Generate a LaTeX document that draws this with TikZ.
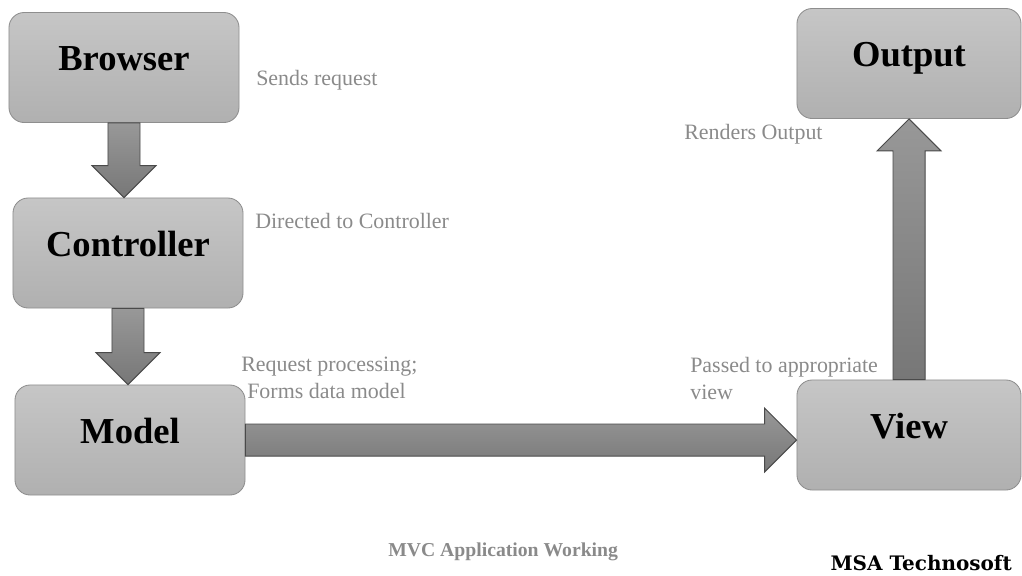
\documentclass[tikz,border=0pt]{standalone}
\usepackage{fontspec}
\setmainfont{Liberation Serif}
\newfontfamily\brandfont{DejaVu Serif}
\usepackage{tikz}
\usetikzlibrary{calc,positioning}

\definecolor{boxtop}{HTML}{C6C6C6}
\definecolor{boxbot}{HTML}{B0B0B0}
\definecolor{boxline}{HTML}{8E8E8E}
\definecolor{arrtop}{HTML}{989898}
\definecolor{arrbot}{HTML}{777777}
\definecolor{arrline}{HTML}{4A4A4A}
\definecolor{notegray}{HTML}{8A8A8A}

% big block arrow from #1 to #2
\newcommand\fatarrow[2]{%
\coordinate (headbase) at ($(#2)!0.8cm!(#1)$);
\draw[fatarrow] ($(#1)!0.4cm!90:(#2)$) -- ($(headbase)!0.4cm!90:(#2)$)
	-- ($(headbase)!0.8cm!90:(#2)$) -- (#2)
	-- ($(headbase)!0.8cm!-90:(#2)$) -- ($(headbase)!0.4cm!-90:(#2)$)
	-- ($(#1)!0.4cm!-90:(#2)$) -- cycle;
}

\begin{document}
\begin{tikzpicture}[x=0.025cm,y=-0.025cm]
	\begin{scope}

\tikzset{block/.style={draw=boxline,line width=0.6pt,rounded corners=0.38cm,
	top color=boxtop,bottom color=boxbot,inner sep=0pt,
	minimum width=5.75cm,minimum height=2.75cm,
	text height=0.62cm,text depth=0.47cm,
	font=\fontsize{26}{30}\selectfont\bfseries}}
\tikzset{fatarrow/.style={draw=arrline,line width=0.7pt,top color=arrtop,bottom color=arrbot}}
\tikzset{note/.style={anchor=base west,inner sep=0pt,text=notegray,align=left,
	font=\fontsize{15.6}{18.6}\selectfont}}

\useasboundingbox (0,0) rectangle (1022,575);

% the boxes
\node(browser)[block] at (124,67.5){Browser};
\node(controller)[block] at (128,253){Controller};
\node(model)[block] at (130,440){Model};
\node(output)[block,minimum width=5.6cm] at (909,63.5){Output};
\node(view)[block,minimum width=5.6cm] at (909,435){View};

% arrow ends
\coordinate (ctrltop) at (browser.south |- controller.north);
\coordinate (modeltop) at (controller.south |- model.north);
\coordinate (viewleft) at (model.east -| view.west);
\coordinate (outbottom) at (view.north |- output.south);

\fatarrow{browser.south}{ctrltop}
\fatarrow{controller.south}{modeltop}
\fatarrow{model.east}{viewleft}
\fatarrow{view.north}{outbottom}

% notes
\node(sendnote)[note] at (256,85){Sends request};
\node(directnote)[note] at (255,228){Directed to Controller};
\node(processnote)[note] at (241,398){Request processing;\\\hspace*{0.15cm}Forms data model};
\node(passnote)[note] at (690,399){Passed to appropriate\\view};
\node(rendernote)[note] at (684,139){Renders Output};

\node(caption)[anchor=base west,inner sep=0pt,text=notegray,
	font=\fontsize{14}{16}\selectfont\bfseries] at (388,556){MVC Application Working};
\node(brand)[anchor=base east,inner sep=0pt,
	font=\brandfont\fontsize{14.2}{16}\selectfont\bfseries] at (1012,570){MSA Technosoft};

	\end{scope}
\end{tikzpicture}
\end{document}
